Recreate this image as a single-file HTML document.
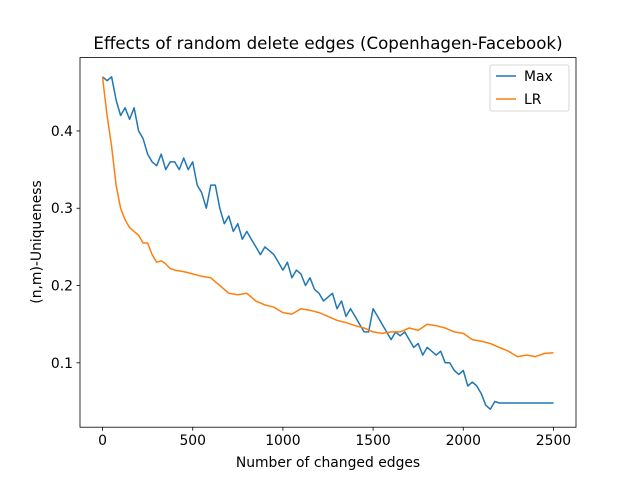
<!DOCTYPE html>
<html><head><meta charset="utf-8"><style>
html,body{margin:0;padding:0;background:#fff;}
svg{display:block;font-family:"DejaVu Sans","Liberation Sans",sans-serif;}
</style></head><body>
<svg id="chart" width="640" height="480" xmlns="http://www.w3.org/2000/svg">
<rect width="640" height="480" fill="#fff"/>
<text x="328" y="49" font-size="16.67" text-anchor="middle">Effects of random delete edges (Copenhagen-Facebook)</text>
<g id="plot"></g>
<g id="axes"></g>
<rect x="80" y="57.6" width="496" height="369.6" fill="none" stroke="#000" stroke-width="0.8"/>
<text x="328" y="467" font-size="13.9" text-anchor="middle">Number of changed edges</text>
<text transform="translate(41,242) rotate(-90)" font-size="13.9" text-anchor="middle">(n,m)-Uniqueness</text>
<g>
<rect x="490" y="65" width="79" height="46" rx="2" fill="#fff" stroke="#ccc" stroke-width="0.8"/>
<line x1="496" y1="76" x2="516" y2="76" stroke="#1f77b4" stroke-width="1.5"/>
<text x="524" y="81" font-size="13.9">Max</text>
<line x1="496" y1="99" x2="516" y2="99" stroke="#ff7f0e" stroke-width="1.5"/>
<text x="524" y="104" font-size="13.9">LR</text>
</g>
</svg>
<script>
const maxX = [0,25,50,75,100,125,150,175,200,225,250,275,300,325,350,375,400,425,450,475,500,525,550,575,600,625,650,675,700,725,750,775,800,825,850,875,900,925,950,975,1000,1025,1050,1075,1100,1125,1150,1175,1200,1225,1250,1275,1300,1325,1350,1375,1400,1425,1450,1475,1500,1525,1550,1575,1600,1625,1650,1675,1700,1725,1750,1775,1800,1825,1850,1875,1900,1925,1950,1975,2000,2025,2050,2075,2100,2125,2150,2175,2200,2300,2400,2500];
const maxY = [0.47,0.465,0.47,0.44,0.42,0.43,0.415,0.43,0.40,0.39,0.37,0.36,0.355,0.37,0.35,0.36,0.36,0.35,0.365,0.35,0.36,0.33,0.32,0.30,0.33,0.33,0.30,0.28,0.29,0.27,0.28,0.26,0.27,0.26,0.25,0.24,0.25,0.245,0.24,0.23,0.22,0.23,0.21,0.22,0.215,0.20,0.21,0.195,0.19,0.18,0.185,0.19,0.17,0.18,0.16,0.17,0.16,0.15,0.14,0.14,0.17,0.16,0.15,0.14,0.13,0.14,0.135,0.14,0.13,0.12,0.125,0.11,0.12,0.115,0.11,0.115,0.10,0.10,0.09,0.085,0.09,0.07,0.075,0.07,0.06,0.045,0.04,0.05,0.048,0.048,0.048,0.048];
const lrX = [0,10,25,50,75,100,125,150,175,200,225,250,275,300,325,350,375,400,450,500,550,600,650,700,750,800,850,900,950,1000,1050,1100,1150,1200,1250,1300,1350,1400,1450,1500,1550,1600,1650,1700,1750,1800,1850,1900,1950,2000,2050,2100,2150,2200,2250,2300,2350,2400,2450,2500];
const lrY = [0.47,0.45,0.42,0.38,0.33,0.30,0.285,0.275,0.27,0.265,0.255,0.255,0.24,0.23,0.232,0.228,0.222,0.22,0.218,0.215,0.212,0.21,0.20,0.19,0.188,0.19,0.18,0.175,0.172,0.165,0.163,0.17,0.168,0.165,0.16,0.155,0.152,0.148,0.145,0.14,0.138,0.14,0.14,0.145,0.142,0.15,0.148,0.145,0.14,0.138,0.13,0.128,0.125,0.12,0.115,0.108,0.11,0.108,0.112,0.113];
const xTicks = [0,500,1000,1500,2000,2500];
const yTicks = [0.1,0.2,0.3,0.4];
const yTickLabels = ["0.1","0.2","0.3","0.4"];

const NS="http://www.w3.org/2000/svg";
const L=80,R=576,T=57.6,B=427.2;
const xMin=-125,xMax=2625,yMin=0.0167,yMax=0.4949;
function sx(v){return L+(v-xMin)/(xMax-xMin)*(R-L);}
function sy(v){return B-(v-yMin)/(yMax-yMin)*(B-T);}
const plot=document.getElementById('plot');
const axes=document.getElementById('axes');
function mk(tag,attrs,parent){const e=document.createElementNS(NS,tag);for(const k in attrs)e.setAttribute(k,attrs[k]);parent.appendChild(e);return e;}
function line(xs,ys,color,name){
  const d=xs.map((x,i)=>(i?'L':'M')+sx(x).toFixed(1)+','+sy(ys[i]).toFixed(1)).join('');
  const p=mk('path',{d:d,fill:'none',stroke:color,'stroke-width':1.5,'stroke-linejoin':'round'},plot);
  
  
}
line(maxX,maxY,'#1f77b4','series-max-line');
line(lrX,lrY,'#ff7f0e','series-lr-line');
xTicks.forEach(v=>{
  const x=sx(v);
  const t=mk('line',{x1:x,x2:x,y1:B,y2:B+3.5,stroke:'#000','stroke-width':0.8},axes);
  
  
  const tx=mk('text',{x:x,y:B+18,'font-size':13.9,'text-anchor':'middle'},axes);
  tx.textContent=String(v);
  
  
});
yTicks.forEach((v,i)=>{
  const y=sy(v);
  const t=mk('line',{x1:L-3.5,x2:L,y1:y,y2:y,stroke:'#000','stroke-width':0.8},axes);
  
  
  const tx=mk('text',{x:L-7,y:y+5,'font-size':13.9,'text-anchor':'end'},axes);
  tx.textContent=yTickLabels[i];
  
  
});
</script>
</body></html>
